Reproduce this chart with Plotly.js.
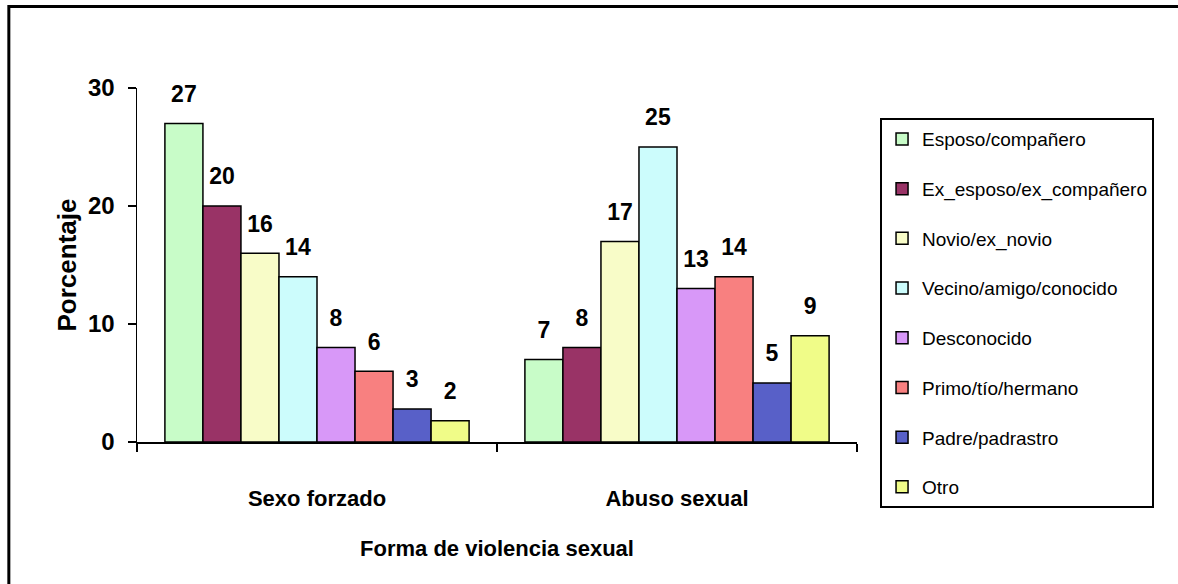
<!DOCTYPE html>
<html>
<head>
<meta charset="utf-8">
<script src="https://cdn.plot.ly/plotly-3.0.1.min.js"></script>
<style>
html,body{margin:0;padding:0;background:#fff;}
#chart{width:1178px;height:584px;}
</style>
</head>
<body>
<div id="chart"></div>
<script>
const categories = ["Sexo forzado", "Abuso sexual"];
const seriesNames = ["Esposo/compañero", "Ex_esposo/ex_compañero", "Novio/ex_novio", "Vecino/amigo/conocido", "Desconocido", "Primo/tío/hermano", "Padre/padrastro", "Otro"];
const esposo = [27, 7];
const exEsposo = [20, 8];
const novio = [16, 17];
const vecino = [14, 25];
const desconocido = [8, 13];
const primo = [6, 14];
const padre = [2.8, 5];
const otro = [1.8, 9];
const labels = [["27","7"],["20","8"],["16","17"],["14","25"],["8","13"],["6","14"],["3","5"],["2","9"]];
const yTicks = [0, 10, 20, 30];
const colors = ["#c8fcc8", "#993366", "#f8fcc8", "#ccfcfc", "#d898f8", "#f88080", "#5860c8", "#f0fc88"];

const FONT = "'Liberation Sans', Arial, sans-serif";
const values = [esposo, exEsposo, novio, vecino, desconocido, primo, padre, otro];

const traces = values.map((v, i) => ({
  type: "bar",
  name: seriesNames[i],
  x: categories,
  y: v,
  text: labels[i],
  texttemplate: "<span style='font-size:23px'>%{text}</span><br> ",
  textposition: "outside",
  textfont: {family: FONT, size: 12, color: "#000", weight: "bold"},
  cliponaxis: false,
  legendgroup: "g" + i,
  marker: {color: colors[i], line: {color: "#000", width: 1.5}},
  hoverinfo: "x+y+name"
}));

const layout = {
  width: 1178,
  height: 584,
  margin: {l: 137, r: 321, t: 88, b: 142},
  paper_bgcolor: "#fff",
  plot_bgcolor: "#fff",
  barmode: "group",
  bargap: 0.155,
  bargroupgap: 0,
  showlegend: true,
  font: {family: FONT, color: "#000"},
  xaxis: {
    type: "category",
    showline: true,
    linecolor: "#000",
    linewidth: 1.5,
    ticks: "outside",
    tickson: "boundaries",
    ticklen: 8,
    tickcolor: "#000",
    tickwidth: 1.5,
    ticklabelstandoff: 36,
    tickfont: {family: FONT, size: 22, color: "#000", weight: "bold"},
    showgrid: false,
    zeroline: false,
    automargin: false,
    title: {text: "Forma de violencia sexual", font: {family: FONT, size: 22, color: "#000", weight: "bold"}, standoff: 30}
  },
  yaxis: {
    range: [0, 30],
    tickvals: yTicks,
    ticktext: yTicks.map(String),
    showline: true,
    linecolor: "#000",
    linewidth: 1.5,
    ticks: "outside",
    ticklen: 8,
    tickcolor: "#000",
    tickwidth: 1.5,
    ticklabelstandoff: 8,
    tickfont: {family: FONT, size: 24, color: "#000", weight: "bold"},
    showgrid: false,
    zeroline: false,
    automargin: false,
    title: {text: "Porcentaje", font: {family: FONT, size: 26, color: "#000", weight: "bold"}, standoff: 4}
  },
  legend: {
    x: 1.032,
    y: 0.915,
    xanchor: "left",
    yanchor: "top",
    bgcolor: "#fff",
    bordercolor: "#000",
    borderwidth: 2,
    font: {family: FONT, size: 19, color: "#000"},
    tracegroupgap: 22,
    traceorder: "grouped",
    itemwidth: 30,
    maxheight: 560
  },
  shapes: [
    {type: "rect", xref: "paper", yref: "paper",
     x0: -0.178, x1: 1.6, y0: -0.6, y1: 1.23,
     line: {color: "#000", width: 3}, fillcolor: "rgba(0,0,0,0)", layer: "above"}
  ]
};

Plotly.newPlot("chart", traces, layout, {displayModeBar: false, staticPlot: true});
</script>
</body>
</html>
